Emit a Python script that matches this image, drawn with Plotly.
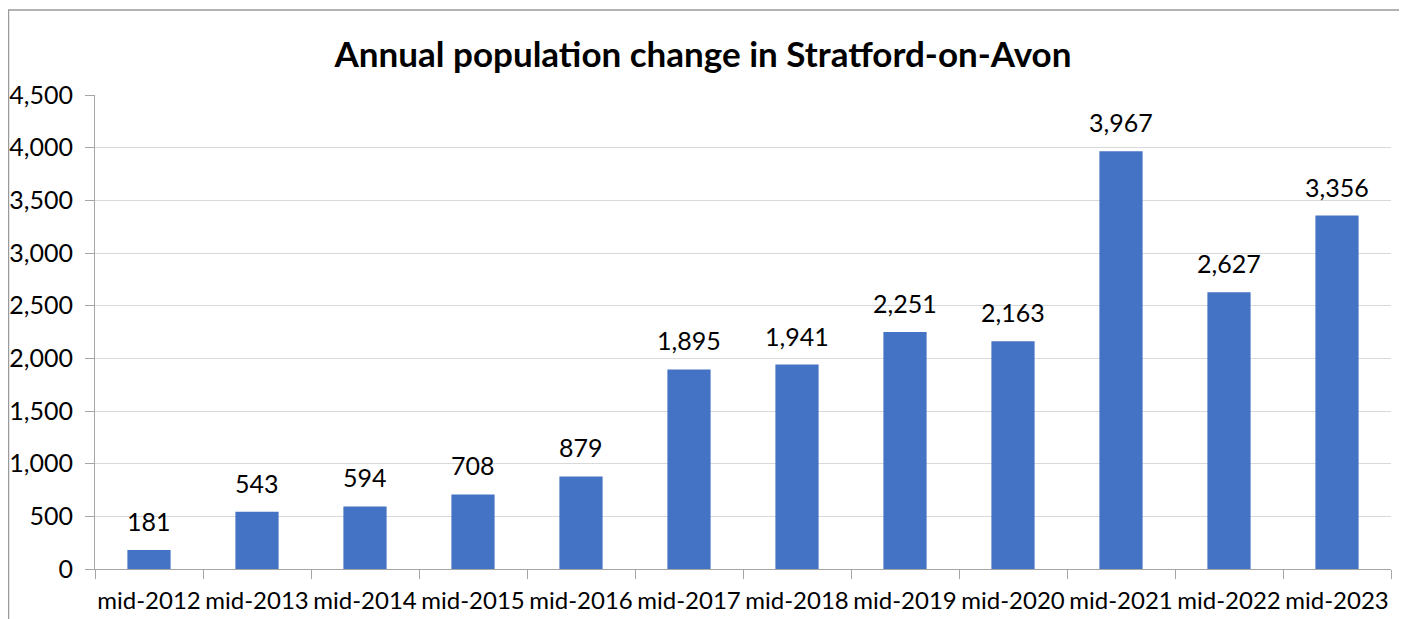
import plotly.graph_objects as go

categories = ["mid-2012", "mid-2013", "mid-2014", "mid-2015", "mid-2016", "mid-2017",
              "mid-2018", "mid-2019", "mid-2020", "mid-2021", "mid-2022", "mid-2023"]
values = [181, 543, 594, 708, 879, 1895, 1941, 2251, 2163, 3967, 2627, 3356]
y_ticks = [0, 500, 1000, 1500, 2000, 2500, 3000, 3500, 4000, 4500]

FONT = "Lato"
OFF = 8  # page body margin
W, H = 1407 - OFF, 619 - OFF
L, R, T, B = 95 - OFF, 1407 - 1391, 95 - OFF, 619 - 569

fig = go.Figure()
fig.add_trace(go.Bar(x=categories, y=values, marker=dict(color="#4472C4", line=dict(width=0)),
                     hoverinfo="x+y"))

for c, v in zip(categories, values):
    fig.add_annotation(x=c, y=v, text=f"{v:,}", showarrow=False, yanchor="bottom",
                       yshift=12, font=dict(family=FONT, size=25, color="#000000"))

pw = W - L - R
ph = H - T - B
fig.add_shape(type="rect", xref="paper", yref="paper",
              x0=(0.5 - L) / pw, x1=(1400 - OFF - L) / pw,
              y0=-(B + 20) / ph, y1=(H - B - (10 - OFF)) / ph,
              line=dict(color="#9a9a9a", width=1.5), fillcolor="rgba(0,0,0,0)", layer="below")

fig.update_layout(
    width=W, height=H,
    margin=dict(l=L, r=R, t=T, b=B, autoexpand=False),
    paper_bgcolor="white", plot_bgcolor="white",
    bargap=0.6,
    showlegend=False,
    title=dict(text="<b>Annual population change in Stratford-on-Avon</b>",
               x=(703 - OFF) / W, xref="container", xanchor="center",
               y=1 - (55 - OFF) / H, yanchor="middle",
               font=dict(family=FONT, size=35, color="#000000")),
    font=dict(family=FONT, size=25, color="#000000"),
)
fig.update_xaxes(type="category", tickson="boundaries", ticks="outside", ticklen=9,
                 tickangle=0, automargin=False, ticklabelstandoff=10,
                 tickcolor="#a6a6a6", showline=True, linecolor="#a6a6a6", linewidth=1,
                 tickfont=dict(family=FONT, size=24, color="#000000"), showgrid=False)
fig.update_yaxes(range=[0, 4500], tickvals=y_ticks, tickformat=",", ticks="outside",
                 ticklen=9, tickcolor="#a6a6a6", showline=True, linecolor="#a6a6a6",
                 linewidth=1, gridcolor="#d9d9d9", gridwidth=1, zeroline=False,
                 automargin=False, ticklabelstandoff=7,
                 tickfont=dict(family=FONT, size=25, color="#000000"))

fig.write_html("out.html")
